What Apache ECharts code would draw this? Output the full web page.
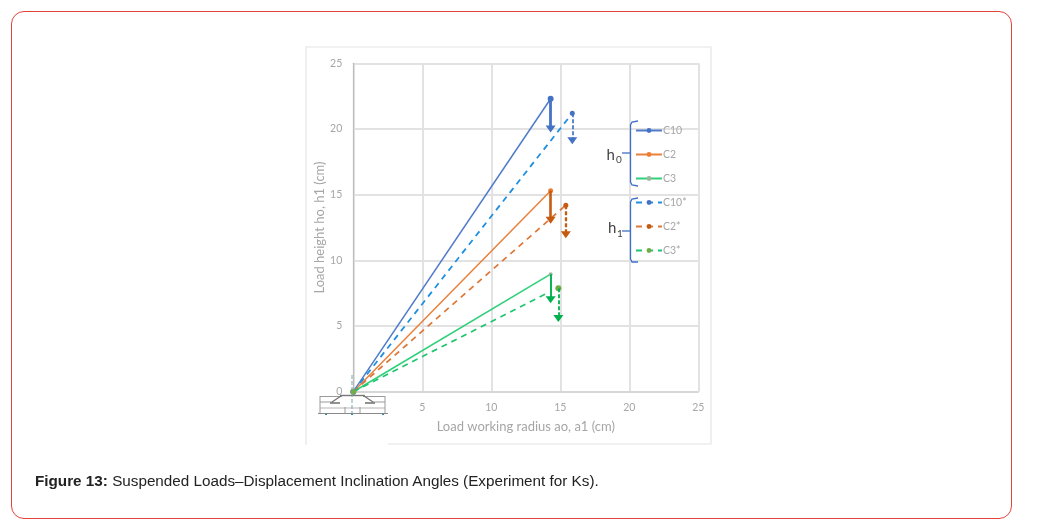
<!DOCTYPE html>
<html>
<head>
<meta charset="utf-8">
<script src="https://cdn.jsdelivr.net/npm/echarts@6/dist/echarts.min.js"></script>
<style>
  html, body { margin: 0; padding: 0; background: #fff; width: 1037px; height: 527px; overflow: hidden; }
  #card { position: absolute; left: 11px; top: 11px; width: 999px; height: 506px; border: 1px solid #e2433b; border-radius: 13px; box-sizing: content-box; }
  #chart { position: absolute; left: 0; top: 0; width: 1037px; height: 527px; filter: blur(0.7px); }
  #caption { position: absolute; left: 35px; top: 472px; font: 15.25px "Liberation Sans", Arial, sans-serif; color: #222; white-space: nowrap; }
</style>
</head>
<body>
<div id="chart"></div>
<div id="card"></div>
<div id="caption"><b>Figure 13:</b> Suspended Loads–Displacement Inclination Angles (Experiment for Ks).</div>
<script>
// Load positions (radius cm, height cm) for the original and displaced states
const c10 = [[0, 0], [14.3, 22.3]];
const c2 = [[0, 0], [14.3, 15.3]];
const c3 = [[0, 0], [14.3, 8.95]];
const c10Star = [[0, 0], [15.87, 21.2]];
const c2Star = [[0, 0], [15.4, 14.2]];
const c3StarRay = [[0, 0], [14.05, 7.5]];
const c3StarPoint = [14.86, 7.87];

// Vertical displacement arrows: x, top, arrow end
const dropC10 = [14.3, 22.3, 20.0];
const dropC2 = [14.3, 15.3, 13.05];
const dropC3 = [14.3, 8.95, 7.0];
const dropC10Star = [15.87, 21.2, 19.1];
const dropC2Star = [15.4, 14.2, 11.95];
const dropC3Star = [14.86, 7.87, 5.58];

const xTicks = [0, 5, 10, 15, 20, 25];
const yTicks = [0, 5, 10, 15, 20, 25];

const GREY = '#a6a6a6';
const FONT = 'Lato, "Open Sans", sans-serif';

function drop(d, color, width, type) {
  return {
    silent: true,
    animation: false,
    symbol: ['none', 'triangle'],
    symbolSize: [10, 7],
    label: { show: false },
    emphasis: { disabled: true },
    lineStyle: { color: color, width: width, type: type },
    data: [[{ coord: [d[0], d[1]] }, { coord: [d[0], d[2]] }]]
  };
}

function lineSeries(name, data, lineColor, lineWidth, dash, markerColor, markerSize, arrow) {
  return {
    name: name,
    type: 'line',
    data: data,
    symbol: 'circle',
    symbolSize: markerSize,
    connectNulls: false,
    lineStyle: { color: lineColor, width: lineWidth, type: dash },
    itemStyle: { color: markerColor },
    markLine: arrow,
    animation: false,
    z: 3
  };
}

const DASH = [6, 5];
const series = [
  lineSeries('C10', c10, '#4f7bc9', 1.5, 'solid', '#4472c4', 6, drop(dropC10, '#4472c4', 2.8, 'solid')),
  lineSeries('C2', c2, '#e8803c', 1.5, 'solid', '#ed7d31', 5, drop(dropC2, '#c55a11', 2.6, 'solid')),
  lineSeries('C3', c3, '#2fd07a', 1.6, 'solid', '#9fb5a0', 4, drop(dropC3, '#00b050', 1.9, 'solid')),
  lineSeries('C10*', c10Star, '#1f8fe0', 1.8, DASH, '#4472c4', 5, drop(dropC10Star, '#4472c4', 1.7, [4, 2])),
  lineSeries('C2*', c2Star, '#dd7a3a', 1.8, DASH, '#c55a11', 5, drop(dropC2Star, '#c55a11', 2.3, [4, 2])),
  lineSeries('C3*',
    [c3StarRay[0], { value: c3StarRay[1], symbol: 'none' }, ['-', '-'], c3StarPoint],
    '#1fc46e', 1.7, DASH, '#70ad47', 6, drop(dropC3Star, '#00b050', 1.8, [4, 2]))
];

// Braces, subscripts and the small pivot sketch around the origin
const BLUE = '#3f6fcb';
const SK = '#9a9a9a';
function seg(points, color, width, dash) {
  return {
    type: 'polyline', silent: true, z: 20,
    shape: { points: points },
    style: { stroke: color, lineWidth: width, fill: null, lineDash: dash || null }
  };
}
function note(x, y, text, size) {
  return {
    type: 'text', silent: true, z: 21, x: x, y: y,
    style: { text: text, fontFamily: FONT, fontSize: size, fill: '#444', verticalAlign: 'middle' }
  };
}

const graphic = [
  { type: 'rect', silent: true, z: 0, shape: { x: 306, y: 47, width: 405, height: 397 }, style: { fill: '#fff', stroke: '#e4e4e4', lineWidth: 1.2 } },
  // sketch backdrop hides the origin tick label and the frame's lower edge
  { type: 'rect', silent: true, z: 19, shape: { x: 307, y: 395, width: 81, height: 52 }, style: { fill: '#fff' } },
  seg([[320, 396.5], [342, 396.5]], SK, 1),
  seg([[363, 396.5], [385, 396.5]], SK, 1),
  seg([[340, 395.5], [365, 395.5]], '#777', 1.4),
  seg([[320, 402], [333, 402]], SK, 1),
  seg([[372, 402], [385, 402]], SK, 1),
  seg([[320, 408], [385, 408]], '#b5b5b5', 1),
  seg([[318, 413.5], [388, 413.5]], '#8a8a8a', 1.1),
  seg([[320, 396], [320, 413]], SK, 1),
  seg([[385, 396], [385, 413]], SK, 1),
  seg([[332, 402], [341, 396]], '#777', 1.4),
  seg([[373, 402], [364, 396]], '#777', 1.4),
  seg([[330, 403], [340, 403]], '#777', 1.6),
  seg([[365, 403], [375, 403]], '#777', 1.6),
  seg([[345, 407], [345, 413]], SK, 1),
  seg([[360, 407], [360, 413]], SK, 1),
  seg([[352, 375], [352, 414]], '#7fa3ad', 1, [4, 2]),
  seg([[326, 413.5], [326, 415]], '#3f8c96', 2),
  seg([[352, 413.5], [352, 415]], '#3f8c96', 2),
  seg([[383, 413.5], [383, 415]], '#3f8c96', 2),
  // bracket for the h0 group
  seg([[638, 121], [632, 122], [630.5, 125], [630.5, 182], [632, 185], [638, 186]], BLUE, 1.3),
  seg([[622, 153], [630, 153]], BLUE, 1.3),
  // bracket for the h1 group
  seg([[638, 198], [632, 199], [630.5, 202], [630.5, 259], [632, 262], [638, 262]], BLUE, 1.3),
  seg([[622, 231], [630, 231]], BLUE, 1.3),
  note(606.5, 155, 'h', 15),
  note(616, 160, '0', 10),
  note(608, 228, 'h', 15),
  note(617, 234, '1', 10)
];

const option = {
  animation: false,
  backgroundColor: 'transparent',
  grid: { left: 353.3, top: 63.3, width: 345, height: 328.4, containLabel: false },
  legend: {
    orient: 'vertical',
    left: 635,
    top: 125,
    padding: 0,
    itemWidth: 26,
    itemHeight: 6,
    itemGap: 13,
    selectedMode: false,
    textStyle: { color: GREY, fontFamily: FONT, fontSize: 10.5, padding: [0, 0, 0, -4] },
    data: ['C10', 'C2', 'C3', 'C10*', 'C2*', 'C3*'],
    z: 10
  },
  xAxis: {
    type: 'value', min: 0, max: 25, interval: 5,
    name: 'Load working radius ao, a1 (cm)',
    nameLocation: 'middle', nameGap: 29,
    nameTextStyle: { color: GREY, fontFamily: FONT, fontSize: 13 },
    axisLine: { show: true, onZero: false, lineStyle: { color: '#d4d4d4', width: 1.5 } },
    axisTick: { show: false },
    axisLabel: { color: GREY, fontFamily: FONT, fontSize: 10.5, margin: 10, showMinLabel: true, showMaxLabel: true, customValues: xTicks },
    splitLine: { show: true, lineStyle: { color: '#e2e2e2', width: 2 } }
  },
  yAxis: {
    type: 'value', min: 0, max: 25, interval: 5,
    name: 'Load height ho, h1 (cm)',
    nameLocation: 'middle', nameGap: 27, nameRotate: 90,
    nameTextStyle: { color: GREY, fontFamily: FONT, fontSize: 13 },
    axisLine: { show: true, onZero: false, lineStyle: { color: '#bdbdbd', width: 1.2 } },
    axisTick: { show: false },
    axisLabel: { color: GREY, fontFamily: FONT, fontSize: 10.5, margin: 11, showMinLabel: true, showMaxLabel: true, customValues: yTicks },
    splitLine: { show: true, lineStyle: { color: '#e2e2e2', width: 2 } }
  },
  series: series,
  graphic: graphic
};

const chart = echarts.init(document.getElementById('chart'), null, { renderer: 'canvas' });
chart.setOption(option);
</script>
</body>
</html>
